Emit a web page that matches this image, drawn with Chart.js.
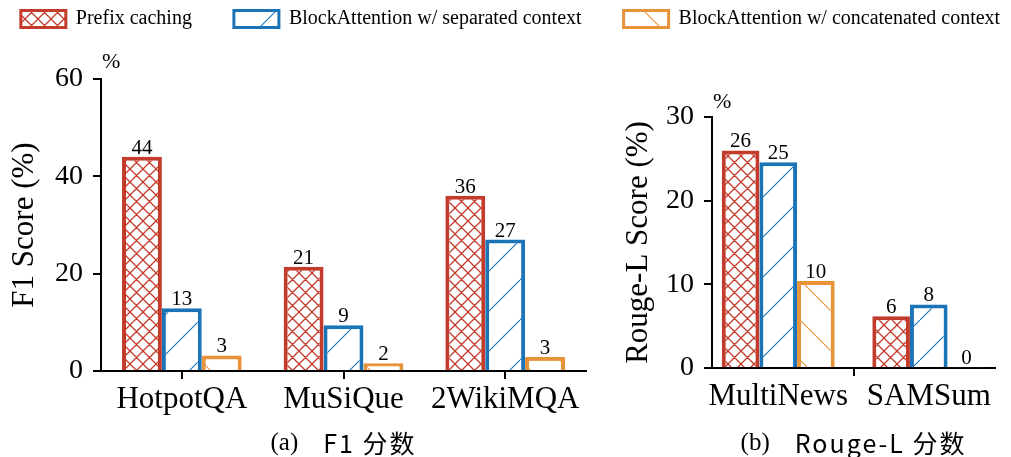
<!DOCTYPE html>
<html><head><meta charset="utf-8">
<script src="https://cdn.jsdelivr.net/npm/chart.js@4.4.1/dist/chart.umd.min.js"></script>
<style>
html,body{margin:0;padding:0;background:#fff;width:1011px;height:457px;overflow:hidden;position:relative;}
canvas.c{position:absolute;}
</style></head><body>
<canvas id="legend" class="c" style="left:-40px;top:-33px;width:1101px;height:200px" width="1101" height="200"></canvas>
<canvas id="c1" class="c" style="left:0;top:0;width:1011px;height:457px" width="1011" height="457"></canvas>
<canvas id="c2" class="c" style="left:0;top:0;width:1011px;height:457px" width="1011" height="457"></canvas>
<script>
// ---- data ----
const seriesNames = ['Prefix caching', 'BlockAttention w/ separated context', 'BlockAttention w/ concatenated context'];
const f1Categories = ['HotpotQA', 'MuSiQue', '2WikiMQA'];
const f1Prefix = [44.0, 21.4, 36.0];
const f1Separated = [12.9, 9.4, 27.0];
const f1Concat = [3.2, 1.6, 2.9];
const f1Ticks = [0, 20, 40, 60];
const rougeCategories = ['MultiNews', 'SAMSum'];
const rougePrefix = [26.0, 6.2];
const rougeSeparated = [24.6, 7.6];
const rougeConcat = [10.4, 0.1];
const rougeTicks = [0, 10, 20, 30];
const captionA = ['(a)', 'F1 分数'];
const captionB = ['(b)', 'Rouge-L 分数'];

// ---- styles ----
const SERIF = "'Liberation Serif', 'Times New Roman', serif";
const CJK = "'Noto Sans CJK SC', 'Noto Sans', sans-serif";
const RED = '#C23B2B', BLUE = '#1C74B8', ORANGE = '#E8923A';
const KINDS = ['cross', 'slash', 'back'];
const COLORS = [RED, BLUE, ORANGE];

const patCache = new Map();
function getPattern(chart, kind, color) {
  const key = chart.id + kind;
  if (patCache.has(key)) return patCache.get(key);
  const size = kind === 'cross' ? 13 : 40;
  const c = document.createElement('canvas');
  c.width = size; c.height = size;
  const g = c.getContext('2d');
  g.fillStyle = '#fff'; g.fillRect(0, 0, size, size);
  g.strokeStyle = color; g.lineWidth = kind === 'cross' ? 1.3 : 1.1;
  g.beginPath();
  for (let k = -1; k <= 1; k++) {
    if (kind === 'cross' || kind === 'slash') { g.moveTo(k * size, size); g.lineTo(k * size + size, 0); }
    if (kind === 'cross' || kind === 'back') { g.moveTo(k * size, 0); g.lineTo(k * size + size, size); }
  }
  g.stroke();
  const p = chart.ctx.createPattern(c, 'repeat');
  patCache.set(key, p);
  return p;
}
function makeDataset(i, data) {
  return {
    label: seriesNames[i], data,
    backgroundColor: ctx => getPattern(ctx.chart, KINDS[i], COLORS[i]),
    borderColor: COLORS[i], borderWidth: 4
  };
}

const valueLabels = {
  id: 'valueLabels',
  afterDatasetsDraw(chart) {
    const ctx = chart.ctx;
    ctx.save();
    ctx.font = '21px ' + SERIF; ctx.fillStyle = '#000';
    ctx.textAlign = 'center'; ctx.textBaseline = 'alphabetic';
    chart.data.datasets.forEach((ds, i) => {
      chart.getDatasetMeta(i).data.forEach((bar, j) => {
        const raw = ds.data[j];
        const v = (typeof raw === 'object') ? raw.y : raw;
        ctx.fillText(String(Math.round(v)), bar.x, bar.y - 3);
      });
    });
    ctx.restore();
  }
};
function annotations(caption, pctDy) {
  return {
    id: 'annot',
    afterDraw(chart) {
      const ctx = chart.ctx, a = chart.chartArea;
      ctx.save();
      ctx.fillStyle = '#000'; ctx.textBaseline = 'middle'; ctx.textAlign = 'left';
      ctx.font = '22px ' + SERIF;
      ctx.fillText('%', a.left + 1, a.top - pctDy);
      ctx.font = '25px ' + SERIF;
      const w1 = ctx.measureText(caption[0]).width;
      ctx.font = '25px ' + CJK;
      ctx.letterSpacing = '2px';
      const w2 = ctx.measureText(caption[1]).width;
      const gap = 25;
      const x0 = (a.left + a.right) / 2 - (w1 + gap + w2) / 2;
      const y = 443;
      ctx.letterSpacing = '0px';
      ctx.font = '25px ' + SERIF;
      ctx.fillText(caption[0], x0, y);
      ctx.font = '25px ' + CJK;
      ctx.letterSpacing = '2px';
      ctx.fillText(caption[1], x0 + w1 + gap, y);
      ctx.restore();
    }
  };
}
const axisGrid = { drawOnChartArea: false, color: '#000', lineWidth: 2, tickLength: 8 };
const axisBorder = { color: '#000', width: 2 };

// ---- legend ----
new Chart(document.getElementById('legend'), {
  type: 'bar',
  data: { labels: [], datasets: [0, 1, 2].map(i => makeDataset(i, [])) },
  options: {
    responsive: false, animation: false,
    scales: { x: { display: false }, y: { display: false } },
    plugins: {
      tooltip: { enabled: false },
      legend: {
        display: true, position: 'top',
        labels: {
          font: { family: SERIF, size: 20 }, color: '#000', boxWidth: 45, boxHeight: 17, padding: 42,
          generateLabels(chart) {
            const items = Chart.defaults.plugins.legend.labels.generateLabels(chart);
            items.forEach(it => { it.lineWidth = 3; });
            return items;
          }
        }
      }
    }
  }
});

// ---- chart (a) ----
new Chart(document.getElementById('c1'), {
  type: 'bar',
  data: {
    labels: f1Categories,
    datasets: [makeDataset(0, f1Prefix), makeDataset(1, f1Separated), makeDataset(2, f1Concat)]
  },
  options: {
    responsive: false, animation: false,
    layout: { padding: { left: 0, right: 425, top: 79, bottom: 0 } },
    datasets: { bar: { categoryPercentage: 0.74, barPercentage: 1 } },
    plugins: { legend: { display: false }, tooltip: { enabled: false } },
    scales: {
      x: {
        type: 'category', offset: true,
        grid: Object.assign({ offset: false }, axisGrid), border: axisBorder,
        ticks: { font: { family: SERIF, size: 31 }, color: '#000', padding: 2, autoSkip: false, maxRotation: 0 },
        afterFit(s) { s.height = 86; }
      },
      y: {
        min: 0, max: 60,
        afterBuildTicks(s) { s.ticks = f1Ticks.map(v => ({ value: v })); },
        grid: axisGrid, border: axisBorder,
        ticks: { font: { family: SERIF, size: 28 }, color: '#000', padding: 10 },
        title: { display: true, text: 'F1 Score (%)', font: { family: SERIF, size: 31 }, color: '#000', padding: { top: 6, bottom: 0 } },
        afterFit(s) { s.width = 101; }
      }
    }
  },
  plugins: [valueLabels, annotations(captionA, 17)]
});

// ---- chart (b) ----
const toXY = arr => arr.map((y, i) => ({ x: i, y }));
new Chart(document.getElementById('c2'), {
  type: 'bar',
  data: {
    datasets: [makeDataset(0, toXY(rougePrefix)), makeDataset(1, toXY(rougeSeparated)), makeDataset(2, toXY(rougeConcat))]
  },
  options: {
    responsive: false, animation: false,
    layout: { padding: { left: 614, right: 16, top: 117, bottom: 0 } },
    datasets: { bar: { categoryPercentage: 0.75, barPercentage: 1 } },
    plugins: { legend: { display: false }, tooltip: { enabled: false } },
    scales: {
      x: {
        type: 'linear', min: -0.44, max: 1.44, offset: false,
        afterBuildTicks(s) { s.ticks = rougeCategories.map((_, i) => ({ value: i })); },
        grid: axisGrid, border: axisBorder,
        ticks: { font: { family: SERIF, size: 31 }, color: '#000', padding: 2, autoSkip: false, maxRotation: 0,
          callback: v => rougeCategories[v] },
        afterFit(s) { s.height = 89; }
      },
      y: {
        min: 0, max: 30,
        afterBuildTicks(s) { s.ticks = rougeTicks.map(v => ({ value: v })); },
        grid: axisGrid, border: axisBorder,
        ticks: { font: { family: SERIF, size: 28 }, color: '#000', padding: 10 },
        title: { display: true, text: 'Rouge-L Score (%)', font: { family: SERIF, size: 31 }, color: '#000', padding: { top: 6, bottom: 0 } },
        afterFit(s) { s.width = 98; }
      }
    }
  },
  plugins: [valueLabels, annotations(captionB, 15)]
});
</script>
</body></html>
